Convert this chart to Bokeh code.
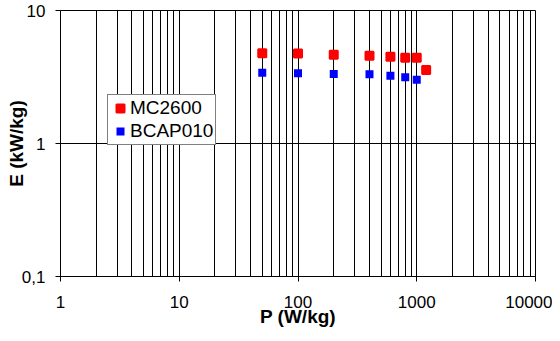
from bokeh.plotting import figure
from bokeh.models import FixedTicker, CustomJSTickFormatter, Legend, LegendItem
from bokeh.embed import file_html
from bokeh.resources import INLINE

# Data
p_mc = [50, 100, 200, 400, 600, 800, 1000, 1200]
e_mc = [4.77, 4.74, 4.65, 4.57, 4.49, 4.42, 4.42, 3.57]
p_bc = [50, 100, 200, 400, 600, 800, 1000]
e_bc = [3.41, 3.37, 3.33, 3.31, 3.23, 3.15, 3.02]

x_major = [1, 10, 100, 1000, 10000]
x_minor = [m * d for d in [1, 10, 100, 1000] for m in range(2, 10)]
y_major = [0.1, 1, 10]

FONT = "Liberation Sans"

p = figure(width=552, height=331, x_axis_type="log", y_axis_type="log",
           x_range=(1, 10000), y_range=(0.1, 10),
           output_backend="svg", toolbar_location=None,
           min_border_left=60, min_border_right=17, min_border_top=10, min_border_bottom=55)

p.background_fill_color = "white"
p.border_fill_color = "white"
p.outline_line_color = "black"
p.outline_line_width = 1

p.xaxis.ticker = FixedTicker(ticks=x_major, minor_ticks=x_minor)
p.yaxis.ticker = FixedTicker(ticks=y_major, minor_ticks=[])
p.xaxis.formatter = CustomJSTickFormatter(code="return tick.toString().replace('.', ',');")
p.yaxis.formatter = CustomJSTickFormatter(code="return tick.toString().replace('.', ',');")

for ax in (p.xaxis, p.yaxis):
    ax.axis_line_color = "black"
    ax.major_tick_line_color = "black"
    ax.major_tick_out = 5
    ax.major_tick_in = 0
    ax.minor_tick_out = 0
    ax.minor_tick_in = 0
    ax.major_label_text_font = FONT
    ax.major_label_text_font_size = "17px"
    ax.major_label_text_color = "black"
    ax.axis_label_text_font = FONT
    ax.axis_label_text_font_size = "19px"
    ax.axis_label_text_font_style = "bold"
    ax.axis_label_text_color = "black"

p.xaxis.axis_label = "P (W/kg)"
p.yaxis.axis_label = "E (kW/kg)"
p.xaxis.major_label_standoff = 14
p.xaxis.axis_label_standoff = -5
p.yaxis.major_label_standoff = 10
p.yaxis.axis_label_standoff = -8

p.xgrid.grid_line_color = "black"
p.xgrid.minor_grid_line_color = "black"
p.xgrid.grid_line_width = 1
p.xgrid.minor_grid_line_width = 1
p.ygrid.grid_line_color = "black"
p.ygrid.minor_grid_line_color = None

r_mc = p.scatter(p_mc, e_mc, marker="square", size=8, fill_color="#FF0000",
                 line_color="#FF0000", line_width=2)
r_bc = p.scatter(p_bc, e_bc, marker="square", size=8, fill_color="#0000FF",
                 line_color=None, line_width=0)

legend = Legend(items=[LegendItem(label="MC2600", renderers=[r_mc]),
                       LegendItem(label="BCAP010", renderers=[r_bc])],
                location=(47, 131))
legend.border_line_color = "black"
legend.border_line_width = 1
legend.background_fill_color = "white"
legend.background_fill_alpha = 1
legend.label_text_font = FONT
legend.label_text_font_size = "19px"
legend.label_text_color = "black"
legend.glyph_width = 20
legend.glyph_height = 20
legend.label_height = 22
legend.padding = 2
legend.spacing = 1
legend.label_standoff = -1
legend.margin = 0
p.add_layout(legend, "center")

open("out.html", "w").write(file_html(p, INLINE))
